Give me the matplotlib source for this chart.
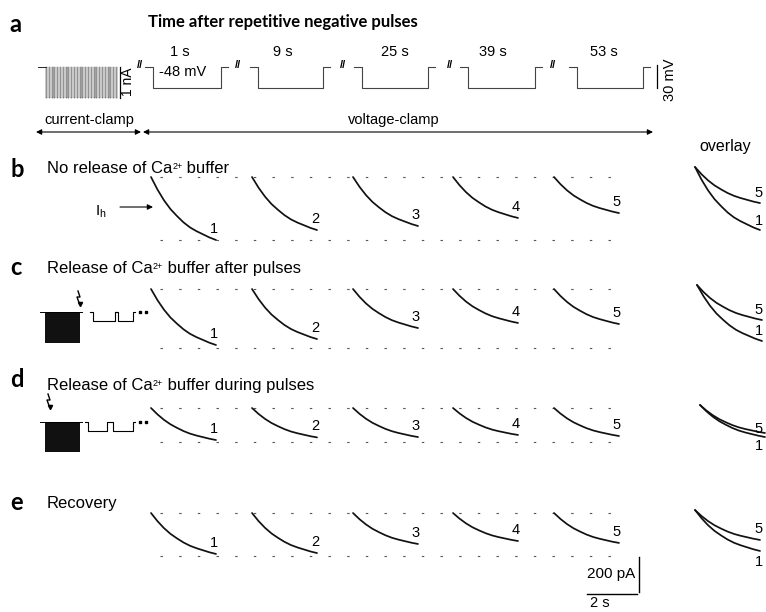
import numpy as np
import matplotlib.pyplot as plt

plt.rcParams['font.family'] = ['Liberation Sans', 'DejaVu Sans']
plt.rcParams['mathtext.fontset'] = 'custom'
plt.rcParams['mathtext.rm'] = 'Liberation Sans'
plt.rcParams['mathtext.it'] = 'Liberation Sans:italic'

# ---- data ----
# Ih decay, sweep of 2.6 s, normalised shape (fraction of total relaxation)
sweep_s = 2.6
sweep_frac = [0, 0.1, 0.2, 0.3, 0.4, 0.5, 0.6, 0.7, 0.8, 0.9, 1.0]
decay_shape = [0, 0.20, 0.37, 0.51, 0.62, 0.72, 0.80, 0.86, 0.91, 0.96, 1.0]

trace_names = ['1', '2', '3', '4', '5']
# relaxation amplitude (pA) of each of the five traces, per condition
amp_b = [360, 303, 280, 234, 206]   # no release of Ca buffer
amp_c = [320, 286, 223, 194, 200]   # release after pulses
amp_d = [183, 168, 166, 154, 160]   # release during pulses
amp_e = [234, 229, 177, 160, 171]   # recovery

step_times = ['1 s', '9 s', '25 s', '39 s', '53 s']
step_mv = '-48 mV'

# ---- layout (pixels) ----
px_per_s = 25.0
px_per_pA = 35.0 / 200
trace_x0 = [151, 252, 353, 453, 554]
row_top = {'b': 177, 'c': 289, 'd': 408, 'e': 513}
row_bot = {'b': 240, 'c': 348, 'd': 442, 'e': 556}
overlay_x0 = {'b': 695, 'c': 697, 'd': 700, 'e': 695}
overlay_y0 = {'b': 167, 'c': 285, 'd': 405, 'e': 510}

fig = plt.figure(figsize=(7.66, 6.12), dpi=100)
ax = fig.add_axes([0, 0, 1, 1])
ax.set_xlim(0, 766)
ax.set_ylim(612, 0)
ax.axis('off')


def trace(x0, y0, amp, lw=1.25):
    t = np.array(sweep_frac) * sweep_s
    x = x0 + t * px_per_s
    y = y0 + amp * np.array(decay_shape) * px_per_pA
    ax.plot(x, y, color='#111111', lw=lw, solid_capstyle='round', solid_joinstyle='round')
    return x[-1], y[-1]


def dashed_row(y):
    ax.plot([160, 622], [y, y], color='#555555', lw=0.8,
            linestyle=(0, (2.2, 14.6)))


def panel_letter(x, y, s):
    ax.text(x, y, s, fontsize=17, fontweight='bold', family=['Lato', 'DejaVu Sans'],
            va='baseline', ha='left')


def ca_title(x, y, before, after, size=12):
    t1 = ax.text(x, y, before, fontsize=size, va='baseline')
    if after is None:
        return
    t2 = ax.annotate('2+', xy=(1, 0.93), xycoords=t1, fontsize=6.5, va='top', ha='left')
    ax.annotate(after, xy=(1, 0), xycoords=(t2, t1), fontsize=size, va='bottom', ha='left')


# ---- panel a ----
panel_letter(9, 32, 'a')
ax.text(148, 27, 'Time after repetitive negative pulses', fontsize=12,
        fontweight='bold', family=['Lato', 'DejaVu Sans'], va='baseline')

hold_y, step_y = 67, 88
# repetitive negative current pulses (current clamp)
ax.plot([38, 46], [hold_y, hold_y], color='k', lw=0.6)
n_pulses = 26
px = np.linspace(46, 116, n_pulses)
for xx in px:
    ax.plot([xx, xx, xx + 0.9, xx + 0.9], [hold_y, 98, 98, hold_y], color='#222222', lw=0.35)
ax.plot([120, 120], [67, 98], color='k', lw=0.9)
ax.text(128, 82, '1 nA', rotation=90, fontsize=10, ha='center', va='center')

step_left = [153, 258, 362, 468, 577]
step_right = [221, 323, 428, 535, 643]
label_x = [180, 283, 395, 493, 604]
for i, (l, r) in enumerate(zip(step_left, step_right)):
    ax.plot([l - 8, l, l, r, r, r + 7], [hold_y, hold_y, step_y, step_y, hold_y, hold_y],
            color='#444444', lw=0.8)
    ax.text(label_x[i], 52, step_times[i], fontsize=10.5, ha='center', va='center')
ax.text(183, 72, step_mv, fontsize=10.5, ha='center', va='center')
for bx in [140, 238, 343, 450, 553]:
    ax.text(bx, 65, '//', fontsize=8, ha='center', va='center', fontweight='bold')
ax.plot([657, 657], [65, 88], color='k', lw=0.9)
ax.text(670, 80, '30 mV', rotation=90, fontsize=10.5, ha='center', va='center')

# clamp mode arrows
ap = dict(arrowstyle='<|-|>', lw=0.8, color='k', mutation_scale=8, shrinkA=0, shrinkB=0)
ax.annotate('', xy=(36, 132), xytext=(141, 132), arrowprops=ap)
ax.annotate('', xy=(143, 132), xytext=(653, 132), arrowprops=ap)
ax.text(89, 124, 'current-clamp', fontsize=10.5, ha='center', va='baseline')
ax.text(394, 124, 'voltage-clamp', fontsize=10.5, ha='center', va='baseline')
ax.text(725, 151, 'overlay', fontsize=11.5, ha='center', va='baseline')

# ---- rows b-e ----
rows = [('b', 'No release of Ca', ' buffer', amp_b, 177, 173),
        ('c', 'Release of Ca', ' buffer after pulses', amp_c, 275, 273),
        ('d', 'Release of Ca', ' buffer during pulses', amp_d, 387, 390),
        ('e', 'Recovery', None, amp_e, 510, 508)]

overlay_lab = {'b': [(-1, -10), (0, -9)], 'c': [(-1, -10), (-2, -10)],
               'd': [(-3, -4), (-3, 9)], 'e': [(0, -11), (0, 11)]}

for key, t_before, t_after, amps, ly, ty in rows:
    panel_letter(10, ly, key)
    ca_title(47, ty, t_before, t_after)
    dashed_row(row_top[key])
    dashed_row(row_bot[key])
    for i, a in enumerate(amps):
        ex, ey = trace(trace_x0[i], row_top[key], a)
        ax.text(ex - 2, ey - 11, trace_names[i], fontsize=10.5, ha='center', va='center')
    # overlay of traces 1 and 5
    ox, oy = overlay_x0[key], overlay_y0[key]
    for j, idx in enumerate([4, 0]):
        ex, ey = trace(ox, oy, amps[idx])
        dx, dy = overlay_lab[key][j]
        ax.text(min(ex + dx, 759), ey + dy, trace_names[idx], fontsize=10.5,
                ha='center', va='center')

# Ih marker
ax.text(95, 216, r'I$_{\rm h}$', fontsize=11, va='baseline')
ax.annotate('', xy=(153, 207), xytext=(120, 207),
            arrowprops=dict(arrowstyle='-|>', lw=0.8, color='k', mutation_scale=8,
                            shrinkA=0, shrinkB=0))


# small protocol insets (c, d)
def inset(base_y, block_bot, steps, bolt):
    ax.plot([40, 82], [base_y, base_y], color='k', lw=0.7)
    ax.fill_between([45, 80], base_y, block_bot, color='#111111', lw=0)
    for l, r in steps:
        ax.plot([l - 3, l, l, r, r, r + 2], [base_y, base_y, base_y + 9, base_y + 9, base_y, base_y],
                color='k', lw=0.8)
    ax.plot([steps[-1][1] + 7, steps[-1][1] + 13], [base_y, base_y], 'ks', ms=1.6)
    bx, by = bolt
    ax.plot([bx, bx + 2, bx - 1, bx + 1.5], [by - 8, by - 2, by - 2, by + 5], color='k', lw=1.0)
    ax.plot([bx + 1.5], [by + 5], marker='v', color='k', ms=3)


inset(312, 343, [(93, 115), (118, 133)], (78, 299))
inset(422, 452, [(88, 107), (113, 133)], (48, 402))

# scale bars
sb_x, sb_y = 639, 592
ax.plot([sb_x, sb_x], [sb_y, sb_y - 200 * px_per_pA], color='k', lw=1.0)
ax.text(sb_x - 4, 574, '200 pA', fontsize=11, ha='right', va='center')
ax.plot([sb_x - 2 - 2 * px_per_s, sb_x - 2], [594, 594], color='k', lw=1.0)
ax.text(590, 603, '2 s', fontsize=10.5, ha='left', va='center')

fig.savefig('out.png', dpi=100)
